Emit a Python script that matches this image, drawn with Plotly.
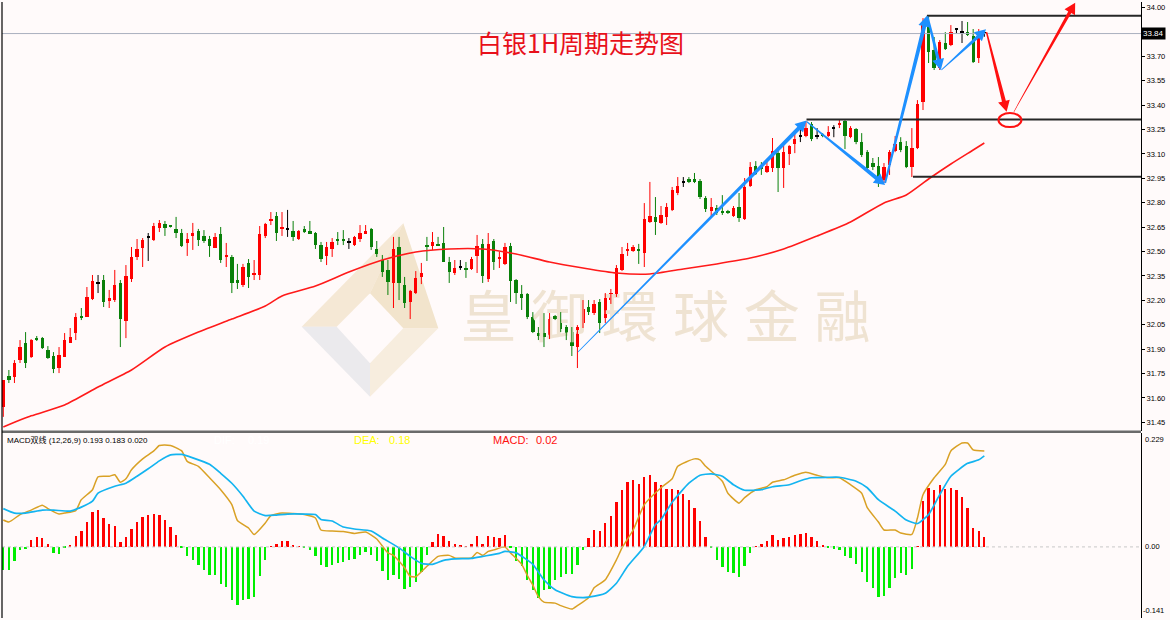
import math
import plotly.graph_objects as go

# ---------------- data ----------------
opens = [31.545,31.735,31.729,31.833,31.938,31.852,31.968,31.968,31.895,31.858,
31.784,31.852,31.938,31.999,32.104,32.098,32.208,32.306,32.325,32.202,
32.202,32.307,32.073,32.331,32.467,32.522,32.590,32.571,32.645,32.669,
32.657,32.639,32.614,32.553,32.596,32.626,32.596,32.577,32.522,32.608,
32.467,32.467,32.325,32.294,32.430,32.356,32.356,32.596,32.688,32.719,
32.639,32.639,32.626,32.577,32.639,32.626,32.614,32.540,32.473,32.516,
32.577,32.577,32.559,32.540,32.577,32.614,32.639,32.516,32.448,32.387,
32.307,32.528,32.294,32.190,32.245,32.344,32.534,32.534,32.547,32.553,
32.436,32.368,32.405,32.399,32.393,32.473,32.547,32.331,32.565,32.454,
32.424,32.534,32.325,32.239,32.239,32.098,31.999,31.999,31.968,32.104,
32.073,32.036,32.005,31.913,32.061,32.159,32.122,32.190,32.091,32.202,
32.221,32.387,32.504,32.504,32.516,32.491,32.682,32.713,32.676,32.713,
32.756,32.860,32.928,32.946,32.946,32.934,32.829,32.749,32.768,32.749,
32.749,32.719,32.774,32.700,32.903,33.025,33.019,32.989,33.013,33.105,
33.013,33.099,33.160,33.210,33.209,33.283,33.210,33.222,33.209,33.259,
33.277,33.302,33.203,33.253,33.173,33.111,33.044,33.025,32.940,33.032,
33.118,33.173,33.148,33.019,33.136,33.419,33.911,33.739,33.628,33.782,
33.770,33.868,33.849,33.849,33.825,33.690,33.840]

highs = [31.710,31.772,31.833,31.956,32.005,31.962,31.981,31.975,31.919,31.882,
31.913,31.999,32.030,32.122,32.153,32.282,32.356,32.356,32.356,32.264,
32.387,32.325,32.417,32.528,32.577,32.583,32.614,32.676,32.694,32.688,
32.660,32.713,32.639,32.614,32.676,32.639,32.632,32.596,32.614,32.651,
32.553,32.479,32.424,32.424,32.454,32.448,32.657,32.676,32.743,32.743,
32.743,32.756,32.688,32.632,32.657,32.688,32.620,32.559,32.559,32.583,
32.620,32.632,32.583,32.596,32.663,32.663,32.645,32.565,32.479,32.448,
32.590,32.590,32.344,32.264,32.380,32.430,32.590,32.620,32.590,32.651,
32.467,32.448,32.448,32.436,32.467,32.602,32.577,32.614,32.577,32.498,
32.553,32.553,32.331,32.294,32.245,32.128,32.036,32.122,32.122,32.110,
32.128,32.048,32.036,32.048,32.202,32.202,32.202,32.208,32.245,32.270,
32.417,32.528,32.553,32.540,32.547,32.798,32.928,32.835,32.780,32.798,
32.897,32.958,32.958,32.958,32.983,32.946,32.841,32.829,32.786,32.847,
32.756,32.780,32.860,32.952,33.050,33.056,33.050,33.062,33.198,33.142,
33.154,33.154,33.228,33.265,33.302,33.296,33.259,33.228,33.271,33.277,
33.308,33.308,33.271,33.259,33.228,33.124,33.075,33.081,33.044,33.124,
33.210,33.203,33.179,33.259,33.431,33.935,33.954,33.819,33.800,33.849,
33.892,33.874,33.917,33.911,33.868,33.868,33.860]

lows = [31.484,31.692,31.692,31.815,31.784,31.846,31.950,31.901,31.840,31.753,
31.753,31.852,31.938,31.956,32.079,32.098,32.202,32.245,32.159,32.153,
32.190,31.913,31.968,32.313,32.448,32.405,32.442,32.565,32.620,32.596,
32.648,32.583,32.528,32.473,32.510,32.534,32.553,32.467,32.522,32.430,
32.405,32.245,32.270,32.282,32.276,32.325,32.325,32.583,32.663,32.565,
32.596,32.590,32.565,32.571,32.614,32.614,32.516,32.436,32.417,32.467,
32.540,32.540,32.516,32.534,32.559,32.608,32.510,32.467,32.344,32.233,
32.153,32.202,32.153,32.085,32.239,32.300,32.442,32.510,32.534,32.436,
32.307,32.356,32.387,32.338,32.387,32.368,32.307,32.313,32.387,32.399,
32.417,32.190,32.178,32.141,32.085,31.999,31.956,31.913,31.962,32.079,
32.005,31.956,31.858,31.784,32.030,32.110,32.110,31.999,32.061,32.178,
32.221,32.380,32.473,32.498,32.424,32.405,32.676,32.602,32.670,32.663,
32.749,32.847,32.897,32.921,32.921,32.823,32.743,32.713,32.725,32.725,
32.731,32.713,32.682,32.694,32.897,32.971,32.971,32.983,32.989,32.866,
32.891,33.032,33.105,33.173,33.203,33.179,33.191,33.203,33.203,33.203,
33.259,33.130,33.197,33.160,33.081,33.001,33.001,32.897,32.921,32.971,
33.111,33.111,33.013,32.958,33.130,33.370,33.659,33.616,33.616,33.739,
33.763,33.843,33.782,33.825,33.659,33.659,33.820]

closes = [31.710,31.710,31.815,31.913,31.815,31.956,31.962,31.907,31.846,31.778,
31.864,31.956,31.975,32.098,32.091,32.221,32.319,32.305,32.190,32.214,
32.294,32.085,32.350,32.467,32.516,32.571,32.589,32.657,32.676,32.645,
32.651,32.614,32.534,32.577,32.614,32.571,32.565,32.534,32.590,32.448,
32.479,32.307,32.307,32.405,32.344,32.368,32.608,32.669,32.700,32.614,
32.651,32.638,32.590,32.626,32.620,32.614,32.540,32.454,32.528,32.559,
32.565,32.565,32.558,32.590,32.614,32.626,32.528,32.485,32.374,32.313,
32.516,32.307,32.184,32.258,32.338,32.368,32.528,32.559,32.534,32.436,
32.374,32.399,32.404,32.387,32.454,32.534,32.350,32.547,32.436,32.467,
32.528,32.319,32.245,32.214,32.098,32.005,31.981,31.975,32.085,32.085,
32.024,31.999,31.919,32.036,32.147,32.128,32.178,32.061,32.214,32.245,
32.399,32.485,32.516,32.528,32.504,32.700,32.719,32.682,32.725,32.774,
32.878,32.903,32.927,32.928,32.928,32.835,32.761,32.774,32.737,32.737,
32.737,32.768,32.706,32.897,33.019,32.977,33.013,33.025,33.118,33.013,
33.111,33.148,33.191,33.209,33.259,33.191,33.209,33.209,33.234,33.258,
33.290,33.209,33.259,33.173,33.093,33.013,33.019,32.921,33.019,33.111,
33.160,33.124,33.019,33.136,33.407,33.911,33.726,33.628,33.788,33.745,
33.849,33.867,33.848,33.837,33.665,33.849,33.840]

ma_idx = [0, 5, 11, 17, 23, 29, 35, 41, 47, 50, 56, 62, 68, 74, 80, 86, 92, 98, 104,
          110, 116, 122, 128, 134, 140, 146, 152, 158, 162, 166, 170, 174, 176]
ma_val = [31.422, 31.490, 31.557, 31.667, 31.772, 31.913, 32.005, 32.085, 32.165, 32.227,
          32.288, 32.374, 32.448, 32.497, 32.516, 32.516, 32.485, 32.436, 32.399, 32.368,
          32.362, 32.393, 32.424, 32.460, 32.516, 32.596, 32.682, 32.799, 32.848, 32.946,
          33.038, 33.124, 33.167]

macd_hist = [-0.047,-0.046,-0.029,-0.007,-0.005,0.013,0.020,0.017,0.005,-0.013,
-0.015,-0.002,0.004,0.021,0.032,0.050,0.070,0.075,0.058,0.046,
0.042,0.010,0.019,0.037,0.050,0.060,0.064,0.067,0.065,0.054,
0.041,0.024,-0.002,-0.019,-0.027,-0.037,-0.047,-0.057,-0.057,-0.074,
-0.080,-0.106,-0.117,-0.107,-0.104,-0.100,-0.059,-0.026,0.001,0.005,
0.011,0.011,0.002,0.001,-0.003,-0.007,-0.019,-0.037,-0.041,-0.037,
-0.033,-0.030,-0.026,-0.025,-0.016,-0.011,-0.017,-0.029,-0.048,-0.066,
-0.056,-0.064,-0.084,-0.080,-0.071,-0.051,-0.017,0.010,0.025,0.021,
0.011,0.005,0.003,0.001,0.005,0.021,0.006,0.021,0.019,0.018,
0.024,-0.002,-0.029,-0.039,-0.066,-0.087,-0.102,-0.086,-0.084,-0.066,
-0.060,-0.054,-0.054,-0.037,-0.007,0.017,0.034,0.032,0.048,0.063,
0.091,0.114,0.130,0.134,0.127,0.141,0.145,0.130,0.124,0.117,
0.117,0.115,0.106,0.095,0.079,0.052,0.020,-0.002,-0.026,-0.040,
-0.051,-0.053,-0.061,-0.039,-0.013,0.001,0.006,0.011,0.023,0.014,
0.017,0.020,0.024,0.026,0.028,0.019,0.011,0.002,-0.001,-0.004,
-0.006,-0.019,-0.022,-0.035,-0.051,-0.071,-0.082,-0.100,-0.098,-0.082,
-0.062,-0.053,-0.057,-0.044,0.001,0.092,0.119,0.115,0.125,0.117,
0.119,0.114,0.100,0.079,0.038,0.031,0.020]

dif_idx = [0,1,3,5,7,8,10,11,13,14,16,17,19,20,21,22,23,25,27,28,30,32,33,35,37,39,41,42,44,45,
           47,48,50,52,54,56,57,59,61,63,65,67,69,70,72,73,74,76,78,80,81,84,85,86,87,88,90,91,93,94,
           95,96,97,99,100,102,103,105,106,108,110,111,113,115,118,120,121,124,125,126,129,130,132,133,
           135,137,138,140,142,144,146,148,150,152,154,155,157,158,160,161,163,164,165,167,169,170,172,
           173,174,176]
dif_val = [0.054,0.050,0.065,0.074,0.084,0.077,0.066,0.068,0.073,0.095,0.115,0.141,0.142,0.145,0.130,
           0.137,0.155,0.177,0.193,0.204,0.204,0.193,0.172,0.162,0.139,0.115,0.085,0.053,0.038,0.025,
           0.048,0.063,0.068,0.067,0.065,0.058,0.034,0.032,0.031,0.027,0.030,0.016,-0.012,-0.017,-0.042,
           -0.059,-0.060,-0.039,-0.019,-0.017,-0.022,-0.022,-0.011,-0.017,-0.009,-0.006,0.000,-0.012,
           -0.035,-0.057,-0.077,-0.100,-0.111,-0.113,-0.118,-0.125,-0.118,-0.102,-0.082,-0.066,-0.026,
           -0.002,0.034,0.085,0.119,0.137,0.162,0.177,0.175,0.162,0.132,0.108,0.088,0.099,0.115,0.121,
           0.130,0.135,0.144,0.150,0.144,0.139,0.139,0.125,0.108,0.079,0.050,0.034,0.034,0.028,0.025,
           0.058,0.105,0.139,0.166,0.193,0.209,0.209,0.195,0.193]

dea_idx = [0,2,4,7,9,12,14,16,17,20,22,24,26,28,30,32,34,37,39,41,43,45,47,49,51,54,56,57,59,61,
           63,66,68,71,73,75,77,79,81,84,86,89,90,92,95,97,99,102,104,105,108,110,112,115,117,118,
           120,123,125,127,129,131,133,136,138,141,143,145,148,150,153,155,157,160,162,164,166,168,
           170,173,175,176]
dea_val = [0.077,0.068,0.068,0.074,0.074,0.072,0.080,0.092,0.108,0.122,0.128,0.142,0.157,0.173,0.185,
           0.186,0.179,0.166,0.148,0.128,0.102,0.072,0.063,0.064,0.066,0.066,0.065,0.055,0.052,0.040,
           0.036,0.032,0.018,-0.002,-0.019,-0.033,-0.035,-0.027,-0.024,-0.023,-0.019,-0.013,-0.009,
           -0.012,-0.035,-0.066,-0.086,-0.100,-0.102,-0.101,-0.093,-0.073,-0.039,0.001,0.045,0.055,
           0.090,0.128,0.144,0.147,0.142,0.125,0.114,0.115,0.121,0.125,0.133,0.139,0.140,0.140,0.132,
           0.119,0.095,0.072,0.054,0.047,0.065,0.105,0.142,0.168,0.175,0.183]

price_ticks = [31.45, 31.60, 31.75, 31.90, 32.05, 32.20, 32.35, 32.50, 32.65, 32.80,
               32.95, 33.10, 33.25, 33.40, 33.55, 33.70, 34.00]
macd_labels = [0.229, 0.00, -0.141]
last_price = 33.84

# horizontal support / resistance lines: price and start index
level_price = [33.950, 33.312, 32.960]
level_start = [165.7, 144.1, 163.2]

# arrows: (start idx, start price, end idx, end price, colour, start width, end width)
arrow_list = [
    (103.1, 31.883, 144.1, 33.306, "#1e90ff", 0.8, 4.0),
    (144.1, 33.300, 158.2, 32.909, "#1e90ff", 1.2, 4.0),
    (158.2, 32.921, 165.7, 33.950, "#1e90ff", 2.0, 4.0),
    (165.8, 33.945, 168.2, 33.616, "#1e90ff", 2.0, 3.2),
    (168.3, 33.616, 176.3, 33.866, "#1e90ff", 1.0, 3.2),
    (176.4, 33.849, 180.0, 33.359, "#ff1010", 1.5, 4.0),
    (181.3, 33.359, 192.3, 34.030, "#ff1010", 0.5, 3.5),
]
ellipse_center = (180.6, 33.308)
ellipse_half = (2.06, 0.043)

title_text = "白银1H周期走势图"
watermark = ["皇", "御", "環", "球", "金", "融"]

# ---------------- geometry ----------------
W, H = 1170, 620
ML, MR, MT, MB = 2, 29, 2, 2
PW, PH = W - ML - MR, H - MT - MB
X_RANGE = [-0.233, 204.11]
MAIN_TOP, MAIN_BOT = 2, 431
MACD_TOP, MACD_BOT = 433, 618
Y_RANGE = [31.397, 34.034]
Y2_RANGE = [-0.1429, 0.229]


def fx(px):
    return (px - ML) / PW


def fy(py):
    return 1 - (py - MT) / PH


def to_px(i, p):
    X = ML + (i - X_RANGE[0]) / (X_RANGE[1] - X_RANGE[0]) * PW
    Y = MAIN_TOP + (Y_RANGE[1] - p) / (Y_RANGE[1] - Y_RANGE[0]) * (MAIN_BOT - MAIN_TOP)
    return X, Y


def px_to_data(X, Y):
    i = X_RANGE[0] + (X - ML) / PW * (X_RANGE[1] - X_RANGE[0])
    p = Y_RANGE[1] - (Y - MAIN_TOP) / (MAIN_BOT - MAIN_TOP) * (Y_RANGE[1] - Y_RANGE[0])
    return i, p


def arrow_path(i0, p0, i1, p1, w0, w1, hl=11.0, hw=6.0):
    x0, y0 = to_px(i0, p0)
    x1, y1 = to_px(i1, p1)
    dx, dy = x1 - x0, y1 - y0
    L = math.hypot(dx, dy)
    ux, uy = dx / L, dy / L
    nx, ny = -uy, ux
    bx, by = x1 - ux * hl, y1 - uy * hl
    pts = [(x0 + nx * w0 / 2, y0 + ny * w0 / 2), (bx + nx * w1 / 2, by + ny * w1 / 2),
           (bx + nx * hw, by + ny * hw), (x1, y1), (bx - nx * hw, by - ny * hw),
           (bx - nx * w1 / 2, by - ny * w1 / 2), (x0 - nx * w0 / 2, y0 - ny * w0 / 2)]
    return "M " + " L ".join(f"{fx(x):.5f},{fy(y):.5f}" for x, y in pts) + " Z"


idx = list(range(len(opens)))
RED, GREEN, BLACK = "#ff0000", "#0a800a", "#000000"

groups = {"up": [], "down": [], "doji": []}
for i in idx:
    d = closes[i] - opens[i]
    if abs(d) <= 0.0015:
        groups["doji"].append(i)
    elif d > 0:
        groups["up"].append(i)
    else:
        groups["down"].append(i)
gcolor = {"up": RED, "down": GREEN, "doji": BLACK}

fig = go.Figure()

# watermark text (behind everything)
wm_x, wm_y = [], []
for k in range(len(watermark)):
    a, b = px_to_data(488.5 + 70.8 * k, 323)
    wm_x.append(a)
    wm_y.append(b)
fig.add_trace(go.Scatter(x=wm_x, y=wm_y, mode="text", text=watermark,
                         textfont=dict(size=56, color="#efe3d2", family="Noto Sans CJK TC"),
                         hoverinfo="skip", showlegend=False))

# wicks
for g, members in groups.items():
    xs, ys = [], []
    for i in members:
        xs += [i, i, None]
        ys += [lows[i], highs[i], None]
    fig.add_trace(go.Scatter(x=xs, y=ys, mode="lines", line=dict(color=gcolor[g], width=1),
                             hoverinfo="skip", showlegend=False))

# bodies
for g, members in groups.items():
    base = [min(opens[i], closes[i]) for i in members]
    hgt = [max(abs(closes[i] - opens[i]), 0.0065) for i in members]
    fig.add_trace(go.Bar(x=members, y=hgt, base=base, width=0.6, marker=dict(color=gcolor[g], line=dict(width=0)),
                         hoverinfo="skip", showlegend=False))

# moving average
fig.add_trace(go.Scatter(x=ma_idx, y=ma_val, mode="lines", line=dict(color="#ff1a1a", width=1.6, shape="spline", smoothing=0.6),
                         hoverinfo="skip", showlegend=False))

# MACD histogram
hist_col = ["#ff0000" if v >= 0 else "#00ee00" for v in macd_hist]
fig.add_trace(go.Bar(x=idx, y=macd_hist, width=0.42, marker=dict(color=hist_col, line=dict(width=0)),
                     xaxis="x2", yaxis="y2", hoverinfo="skip", showlegend=False))
fig.add_trace(go.Scatter(x=dif_idx, y=dif_val, mode="lines", line=dict(color="#d9a125", width=1.5, shape="spline", smoothing=0.5),
                         xaxis="x2", yaxis="y2", hoverinfo="skip", showlegend=False))
fig.add_trace(go.Scatter(x=dea_idx, y=dea_val, mode="lines", line=dict(color="#14b4f0", width=1.7, shape="spline", smoothing=0.5),
                         xaxis="x2", yaxis="y2", hoverinfo="skip", showlegend=False))

shapes = []
# logo watermark (diamond)
def poly(points, color):
    return dict(type="path", xref="paper", yref="paper", layer="below",
                path="M " + " L ".join(f"{fx(x):.5f},{fy(y):.5f}" for x, y in points) + " Z",
                fillcolor=color, line=dict(width=0))

Lp, Tp, Rp, Bp = (301.7, 326.7), (403.3, 223.3), (438.3, 328.3), (370.0, 396.7)
lp, tp, rp, bp = (336.7, 326.7), (370.0, 293.3), (403.3, 328.3), (370.0, 363.3)
shapes.append(poly([Lp, Tp, tp, lp], "rgba(241,226,200,0.75)"))
shapes.append(poly([Tp, Rp, rp, tp], "rgba(238,220,188,0.75)"))
shapes.append(poly([Rp, Bp, bp, rp], "rgba(244,232,212,0.75)"))
shapes.append(poly([Lp, lp, bp, Bp], "rgba(228,228,232,0.75)"))

# current price line
shapes.append(dict(type="line", xref="paper", yref="y", x0=0, x1=1, y0=last_price, y1=last_price,
                   line=dict(color="#aab0be", width=1)))
# support / resistance levels
for pr, st in zip(level_price, level_start):
    shapes.append(dict(type="line", xref="x", yref="y", x0=st, x1=X_RANGE[1], y0=pr, y1=pr,
                       line=dict(color="#262626", width=2)))
# arrows
for (i0, p0, i1, p1, col, w0, w1) in arrow_list:
    shapes.append(dict(type="path", xref="paper", yref="paper", path=arrow_path(i0, p0, i1, p1, w0, w1),
                       fillcolor=col, line=dict(width=0)))
# ellipse
cx, cy = ellipse_center
rx, ry = ellipse_half
shapes.append(dict(type="circle", xref="x", yref="y", x0=cx - rx, x1=cx + rx, y0=cy - ry, y1=cy + ry,
                   line=dict(color="#ff1010", width=2)))
# macd zero line
shapes.append(dict(type="line", xref="paper", yref="y2", x0=0, x1=1, y0=0, y1=0,
                   line=dict(color="#c8c8c8", width=1, dash="dot")))
# panel separator and borders
shapes.append(dict(type="line", xref="paper", yref="paper", x0=0, x1=1, y0=fy(431.7), y1=fy(431.7),
                   line=dict(color="#6a6a6a", width=2.5)))
shapes.append(dict(type="line", xref="paper", yref="paper", x0=0, x1=0, y0=0, y1=1,
                   line=dict(color="#000000", width=1.2)))

annotations = []
annotations.append(dict(xref="paper", yref="paper", x=fx(580), y=fy(22), text=title_text, showarrow=False,
                        font=dict(family="Noto Sans CJK SC", size=25, color="#e8101a")))
annotations.append(dict(xref="paper", yref="y", x=1, y=last_price, xanchor="left", yanchor="middle",
                        text="33.84", showarrow=False, bgcolor="#000000", borderpad=1,
                        font=dict(family="Liberation Sans", size=8, color="#ffffff")))
# MACD header texts
annotations.append(dict(xref="paper", yref="paper", x=fx(5), y=fy(440), xanchor="left", yanchor="middle",
                        text="MACD双线 (12,26,9) 0.193 0.183 0.020", showarrow=False,
                        font=dict(family="Liberation Sans, Noto Sans CJK SC", size=8, color="#000000")))
for txt, xp, col in [("DIF:", 212, "#ffffff"), ("0.19", 246, "#ffffff"),
                     ("DEA:", 352, "#ffff00"), ("0.18", 387, "#ffff00"),
                     ("MACD:", 491, "#ff1010"), ("0.02", 534, "#ff1010")]:
    annotations.append(dict(xref="paper", yref="paper", x=fx(xp), y=fy(440), xanchor="left", yanchor="middle",
                            text=txt, showarrow=False, font=dict(family="Liberation Sans", size=11, color=col)))
# MACD axis labels
annotations.append(dict(xref="paper", yref="y2", x=1, y=macd_labels[0], xanchor="left", yanchor="top", xshift=2,
                        text="0.229", showarrow=False, font=dict(family="Liberation Sans", size=7.5, color="#000")))
annotations.append(dict(xref="paper", yref="y2", x=1, y=macd_labels[1], xanchor="left", yanchor="middle", xshift=2,
                        text="0.00", showarrow=False, font=dict(family="Liberation Sans", size=7.5, color="#000")))
annotations.append(dict(xref="paper", yref="y2", x=1, y=macd_labels[2], xanchor="left", yanchor="bottom", xshift=0,
                        text="-0.141", showarrow=False, font=dict(family="Liberation Sans", size=7.5, color="#000")))

fig.update_layout(
    width=W, height=H, margin=dict(l=ML, r=MR, t=MT, b=MB),
    paper_bgcolor="#fffafa", plot_bgcolor="#fffafa",
    barmode="overlay", showlegend=False, bargap=0,
    xaxis=dict(range=X_RANGE, showticklabels=False, showgrid=False, zeroline=False, showline=False,
               ticks="", anchor="y", domain=[0, 1]),
    xaxis2=dict(range=X_RANGE, showticklabels=False, showgrid=False, zeroline=False, showline=False,
                ticks="", anchor="y2", domain=[0, 1], matches="x"),
    yaxis=dict(domain=[fy(MAIN_BOT), 1], range=Y_RANGE, side="right", showgrid=False, zeroline=False,
               showline=True, linecolor="#000", linewidth=1, ticks="outside", ticklen=3, tickcolor="#000",
               tickvals=price_ticks, ticktext=[f"{v:.2f}" for v in price_ticks],
               tickfont=dict(family="Liberation Sans", size=7.5, color="#000"), anchor="x"),
    yaxis2=dict(domain=[0, fy(MACD_TOP)], range=Y2_RANGE, side="right", showgrid=False, zeroline=False,
                showline=True, linecolor="#000", linewidth=1, ticks="", showticklabels=False, anchor="x2"),
    shapes=shapes, annotations=annotations,
)

fig.write_html("out.html", config={"displayModeBar": False})
